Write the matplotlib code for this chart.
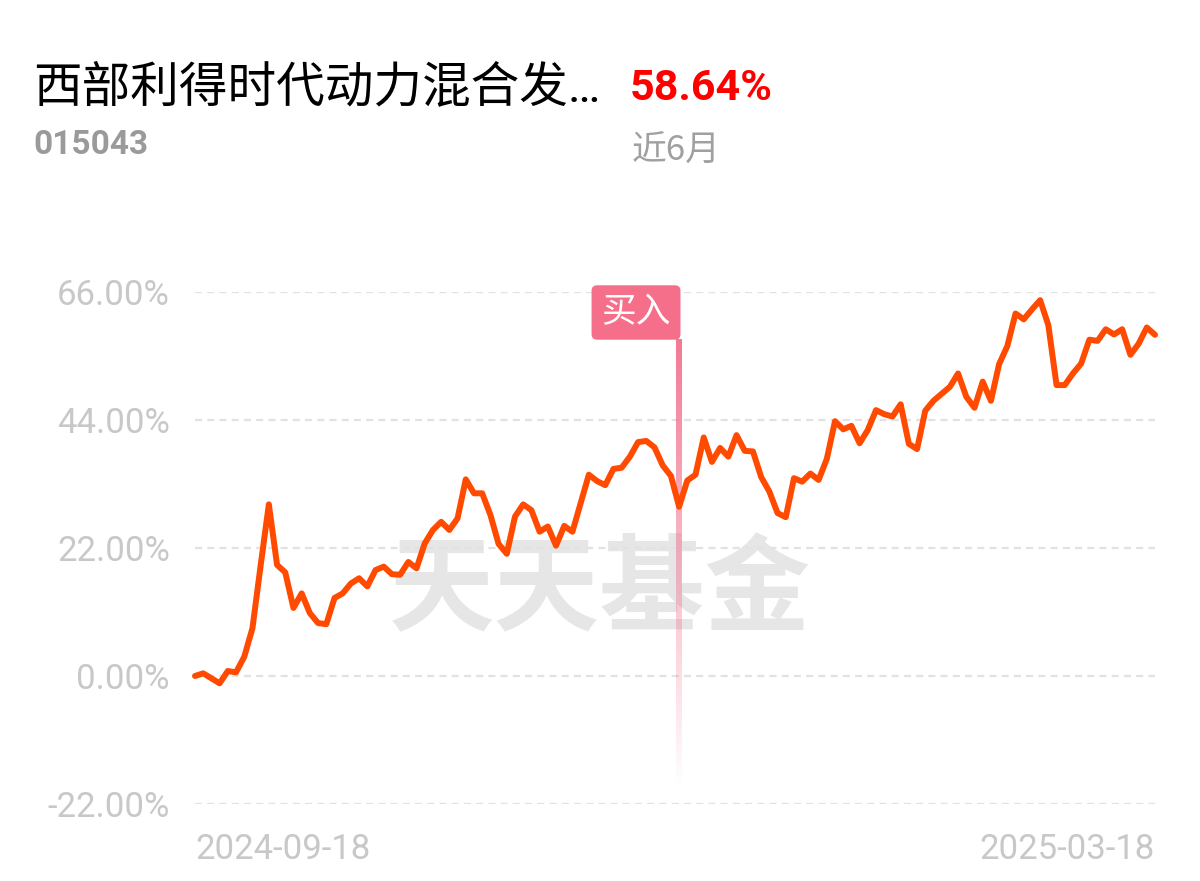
import matplotlib
matplotlib.use("Agg")
import matplotlib.pyplot as plt
import numpy as np

plt.rcParams['font.family'] = ['Noto Sans CJK SC', 'DejaVu Sans']

# cumulative return (%) of the fund, one value per trading day
returns = [0.0, 0.46, -0.4, -1.26, 0.86, 0.63, 3.3, 8.2, 19.0, 29.5,
           19.1, 17.8, 11.7, 14.2, 10.8, 9.1, 8.9, 13.4, 14.2, 15.9,
           16.8, 15.4, 18.2, 18.8, 17.5, 17.4, 19.6, 18.5, 22.8, 25.1,
           26.5, 25.1, 27.1, 33.8, 31.4, 31.4, 27.7, 22.7, 21.0, 27.4,
           29.5, 28.5, 24.8, 25.7, 22.4, 25.8, 24.8, 29.7, 34.6, 33.5,
           32.8, 35.6, 35.8, 37.7, 40.2, 40.4, 39.3, 36.2, 34.4, 29.1,
           33.6, 34.6, 41.0, 36.8, 39.2, 37.7, 41.4, 38.7, 38.6, 34.2,
           31.7, 28.0, 27.3, 34.0, 33.4, 34.8, 33.7, 37.3, 43.8, 42.4,
           43.0, 40.0, 42.3, 45.7, 45.0, 44.6, 46.7, 39.9, 39.0, 45.6,
           47.3, 48.5, 49.7, 52.0, 48.0, 46.1, 50.6, 47.3, 53.6, 56.7,
           62.3, 61.3, 63.0, 64.6, 60.3, 50.0, 50.0, 52.0, 53.7, 57.8,
           57.6, 59.6, 58.7, 59.6, 55.2, 57.1, 59.9, 58.64]
buy_index = 59
yticks = [-22, 0, 22, 44, 66]
date_labels = ['2024-09-18', '2025-03-18']

fund_name = '西部利得时代动力混合发…'
fund_code = '015043'
period_return = '58.64%'
period_label = '近6月'

x = np.arange(len(returns))

fig = plt.figure(figsize=(12, 8.81), dpi=100)
ax = fig.add_axes([195 / 1200, 77 / 881, 960 / 1200, 512 / 881])

# watermark, kept under the curve
ax.text(0.5, 1 - 592 / 881, '天天基金', fontsize=76, fontweight='bold',
        color='#e6e6e6', ha='center', va='center', zorder=0.5,
        transform=fig.transFigure)

for t in yticks:
    ax.axhline(t, color='#e2e2e2', lw=1.6, dashes=[3.2, 2.3], zorder=1)

# buy marker: fading vertical line + label box
top_val = 57.8
bottom_val = -19.6
grad = np.zeros((100, 1, 4))
grad[:, 0, :3] = matplotlib.colors.to_rgb('#f26a88')
grad[:, 0, 3] = np.linspace(0.9, 0.0, 100)
ax.imshow(grad, extent=[buy_index - 0.33, buy_index + 0.33, bottom_val, top_val],
          aspect='auto', origin='upper', zorder=2, interpolation='bilinear')

ax.plot(x, returns, color='#ff4a00', lw=4.3, solid_joinstyle='round',
        solid_capstyle='round', zorder=3, clip_on=False)

ax.annotate('买入', xy=(buy_index, top_val), xytext=(-6, 7),
            textcoords='offset points', ha='right', va='bottom',
            fontsize=25, color='white', zorder=4,
            bbox=dict(boxstyle='round,pad=0.28,rounding_size=0.16',
                      fc='#f66f8a', ec='none'))

ax.set_xlim(0, len(returns) - 1)
ax.set_ylim(-22, 66)
ax.set_yticks(yticks)
ax.set_yticklabels(['%.2f%%' % t for t in yticks], fontsize=25,
                   color='#c8c8c8', family='Roboto')
ax.set_xticks([0, len(returns) - 1])
ax.set_xticklabels(date_labels, fontsize=25, color='#c8c8c8', family='Roboto')
labels = ax.get_xticklabels()
labels[0].set_ha('left')
labels[1].set_ha('right')
ax.tick_params(axis='y', length=0, pad=18)
ax.tick_params(axis='x', length=0, pad=21)
for s in ax.spines.values():
    s.set_visible(False)
ax.set_facecolor('none')

# header
fig.text(33 / 1200, 1 - 88 / 881, fund_name, fontsize=35, color='black',
         ha='left', va='center', family=['Roboto', 'Noto Sans CJK SC'])
fig.text(630 / 1200, 1 - 89 / 881, period_return, fontsize=31, color='#ff0000',
         fontweight='bold', ha='left', va='center', family='Roboto')
fig.text(33 / 1200, 1 - 145 / 881, fund_code, fontsize=24, color='#9a9a9a',
         fontweight='bold', ha='left', va='center', family='Roboto')
fig.text(632 / 1200, 1 - 151 / 881, period_label, fontsize=25, color='#a0a0a0',
         ha='left', va='center')

fig.savefig('out.png', dpi=100, facecolor='white')
